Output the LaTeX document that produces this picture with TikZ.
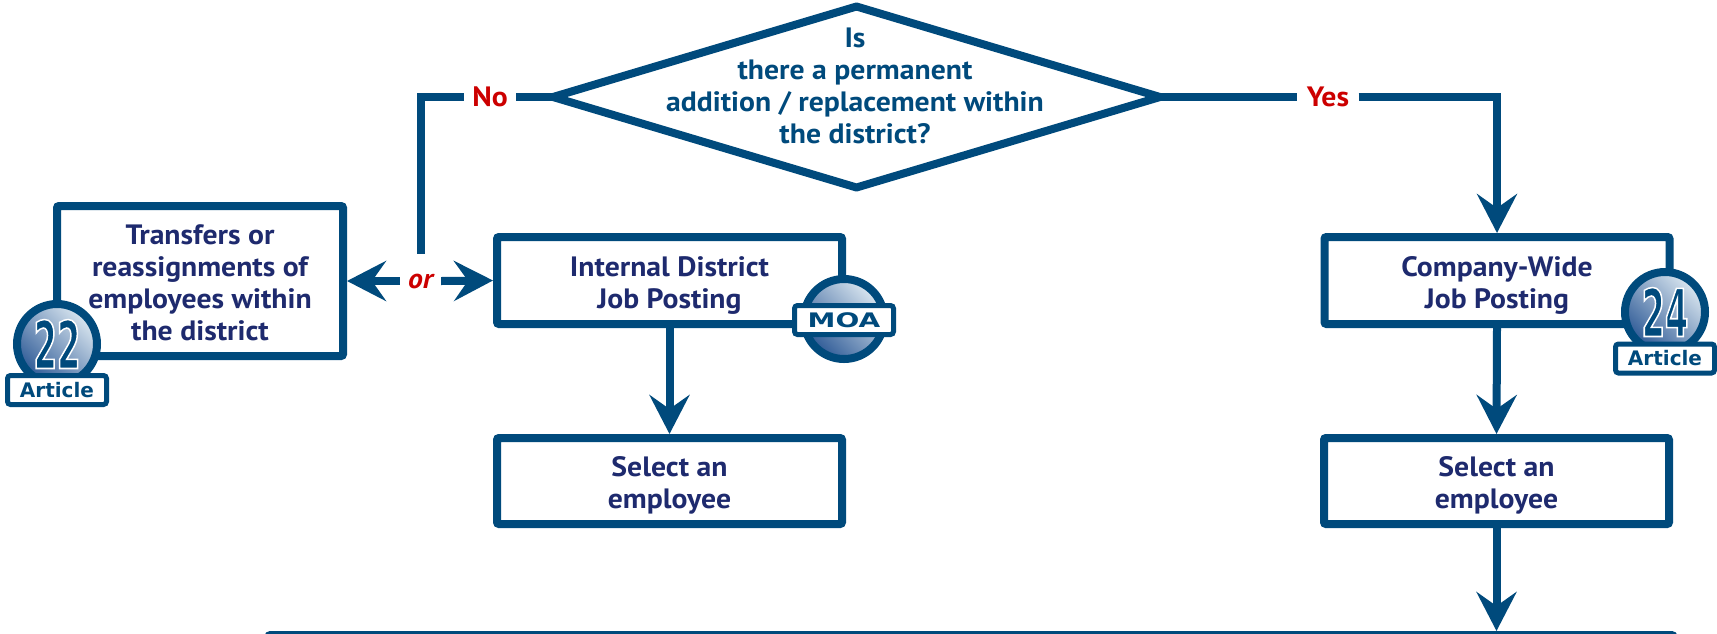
\documentclass[tikz,border=0pt]{standalone}
\usepackage{fontspec}
\setmainfont[FakeStretch=1.06]{PT Sans}
\newfontfamily\numfont[FakeStretch=0.51]{DejaVu Sans}
\newfontfamily\tagfont{DejaVu Sans}
\newfontfamily\moafont[FakeStretch=1.4]{DejaVu Sans}
\usetikzlibrary{shapes.geometric,arrows.meta}
\definecolor{flowblue}{HTML}{004A7C}
\definecolor{flownavy}{HTML}{1E2A6E}
\definecolor{flowred}{HTML}{CC0000}
\definecolor{flowlight}{HTML}{DCE8F1}
\definecolor{flowdark}{HTML}{2E5A96}
\newcommand{\outnum}[1]{\special{pdf:code q 2 Tr 1 1 1 RG 1.5 w}#1\special{pdf:code Q}}
\newcommand{\topgap}{\rule{0pt}{30pt}}
\newcommand{\lowgap}{\rule[-7pt]{0pt}{0pt}}
\tikzset{
	stepbox/.style={draw=flowblue, line width=8pt, fill=white, rounded corners=2pt, inner sep=0pt, text=flownavy, align=center, font=\fontsize{28}{32}\selectfont\bfseries},
	link/.style={draw=flowblue, line width=8pt},
	answer/.style={text=flowred, inner sep=0pt, font=\fontsize{28}{32}\selectfont\bfseries},
	badge/.style={circle, draw=flowblue, line width=8pt, minimum size=80pt, inner sep=0pt, top color=flowlight, bottom color=flowdark, shading angle=-45, text=flowblue, font=\numfont\fontsize{66}{66}\selectfont\bfseries},
	tagbox/.style={draw=flowblue, line width=5pt, fill=white, rounded corners=3pt, minimum width=99pt, minimum height=29pt, inner sep=0pt, text=flowblue},
}
\begin{document}
\begin{tikzpicture}[x=1pt, y=-1pt, line cap=butt, >={Stealth[length=39pt,width=40pt,inset=14pt]}]
	\useasboundingbox (0,0) rectangle (1717,633);
	\clip (0,0) rectangle (1717,633);
	\node[draw=flowblue, line width=8pt, fill=white, line join=round, diamond, outer sep=0pt, inner sep=0pt, minimum width=607pt, minimum height=181pt] (ask) at (856.5,97) {};
	\node[text=flowblue, align=center, inner sep=0pt, font=\fontsize{28}{32}\selectfont\bfseries] (asktext) at (855,86) {Is\\there a permanent\\addition / replacement within\\the district?};
	\node[stepbox, minimum width=286pt, minimum height=150pt] (transfers) at (200,281) {\topgap Transfers or\\reassignments of\\employees within\\the district\lowgap};
	\node[stepbox, minimum width=345pt, minimum height=87pt] (internal) at (669.5,280.5) {\topgap Internal District\\Job Posting\lowgap};
	\node[stepbox, minimum width=345pt, minimum height=86pt] (selectA) at (669.5,481) {\topgap Select an\\employee\lowgap};
	\node[stepbox, minimum width=345pt, minimum height=87pt] (company) at (1497,280.5) {\topgap Company-Wide\\Job Posting\lowgap};
	\node[stepbox, minimum width=345pt, minimum height=86pt] (selectB) at (1496.5,481) {\topgap Select an\\employee\lowgap};
	\node[stepbox, minimum width=1405pt, minimum height=100pt] (merge) at (971,685) {};
	\node[answer, minimum width=52pt] (no) at (490,97) {No};
	\node[answer, minimum width=61pt] (yes) at (1328,97) {Yes};
	\node[answer, minimum width=41pt, minimum height=54pt, font=\fontsize{28}{32}\selectfont\bfseries\itshape] (or) at (420.5,281) {or};
	\draw[link] (ask.west) -- (no.east);
	\draw[link, line join=miter] (no.west) -| (or.north);
	\draw[link] (ask.east) -- (yes.west);
	\draw[link, ->] (yes.east) -| (company.north);
	\draw[link, ->] (or.west) -- (transfers.east);
	\draw[link, ->] (or.east) -- (internal.west);
	\draw[link, ->] (internal.south) -- (selectA.north);
	\draw[link, ->] (company.south) -- (selectB.north);
	\draw[link, ->] (selectB.south) -- (selectB.south |- merge.north);
	\node[badge] (artA) at (57,344) {\outnum{22}};
	\node[tagbox, font=\tagfont\fontsize{20}{24}\selectfont\bfseries] (tagA) at (57,390) {Article};
	\node[badge] (moa) at (844,319) {};
	\node[tagbox, font=\moafont\fontsize{20}{24}\selectfont\bfseries] (tagM) at (844,320) {MOA};
	\node[badge] (artB) at (1665,312) {\outnum{24}};
	\node[tagbox, font=\tagfont\fontsize{20}{24}\selectfont\bfseries] (tagB) at (1665,358.5) {Article};
\end{tikzpicture}
\end{document}
